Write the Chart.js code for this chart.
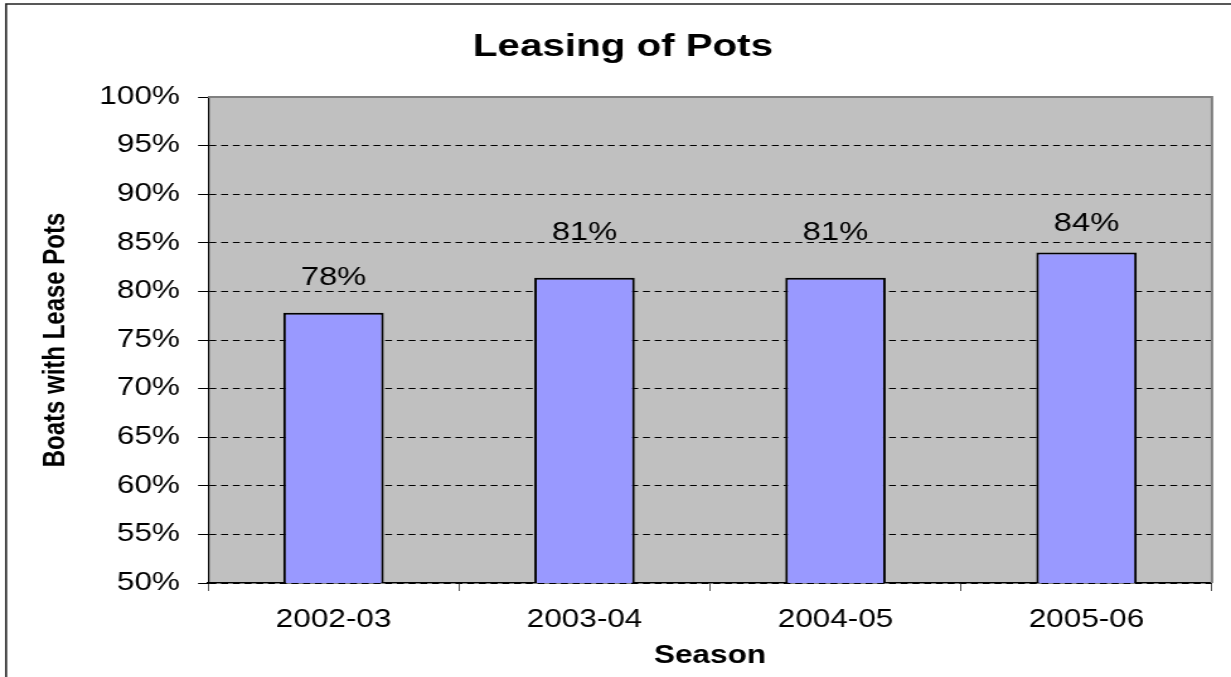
<!DOCTYPE html>
<html>
<head>
<meta charset="utf-8">
<title>Leasing of Pots</title>
<script src="https://cdn.jsdelivr.net/npm/chart.js@4/dist/chart.umd.min.js"></script>
<style>
  html, body { margin: 0; padding: 0; background: #fff; overflow: hidden; }
  /* drawn narrow and widened by css, like the old wide-stretched export */
  #potsChart { width: 1231px !important; height: 677px !important; display: block; }
</style>
</head>
<body>
<canvas id="potsChart" width="977" height="677"></canvas>
<script>
// Share of boats leasing pots, per season (%)
const seasons = ['2002-03', '2003-04', '2004-05', '2005-06'];
const leaseShare = [77.8, 81.4, 81.4, 84.0];
const yTicks = [50, 55, 60, 65, 70, 75, 80, 85, 90, 95, 100];

// how far each value label sits above its bar
const labelLift = [35, 45, 45, 29];

const FONT = '"Liberation Sans", Arial, sans-serif';
Chart.defaults.font.family = FONT;
Chart.defaults.color = '#000';

// grey plot background plus the frame lines
const plotFrame = {
    id: 'plotFrame',
    beforeDraw(chart) {
        const { ctx, chartArea: a } = chart;
        ctx.save();
        ctx.fillStyle = '#C0C0C0';
        ctx.fillRect(a.left, a.top, a.right - a.left, a.bottom - a.top);
        ctx.restore();
    },
    afterDraw(chart) {
        const { ctx, chartArea: a } = chart;
        ctx.save();
        ctx.strokeStyle = '#808080';
        ctx.lineWidth = 2;
        ctx.beginPath();
        ctx.moveTo(a.left, a.top);
        ctx.lineTo(a.right, a.top);
        ctx.lineTo(a.right, a.bottom);
        ctx.stroke();
        // outer border of the whole chart
        ctx.strokeStyle = '#222';
        ctx.lineWidth = 1.6;
        ctx.beginPath();
        ctx.moveTo(4.8, chart.height + 5);
        ctx.lineTo(4.8, 4);
        ctx.lineTo(chart.width + 5, 4);
        ctx.stroke();
        ctx.restore();
    }
};

// percent labels above the bars
const barLabels = {
    id: 'barLabels',
    afterDatasetsDraw(chart) {
        const ctx = chart.ctx;
        const meta = chart.getDatasetMeta(0);
        ctx.save();
        ctx.font = '26px ' + FONT;
        ctx.fillStyle = '#000';
        ctx.textAlign = 'center';
        ctx.textBaseline = 'middle';
        meta.data.forEach((bar, i) => {
            ctx.fillText(Math.round(leaseShare[i]) + '%', bar.x, bar.y - labelLift[i]);
        });
        ctx.restore();
    }
};

const potsChart = new Chart(document.getElementById('potsChart'), {
    type: 'bar',
    data: {
        labels: seasons,
        datasets: [{
            label: 'Boats with Lease Pots',
            data: leaseShare,
            backgroundColor: '#9999FF',
            borderColor: '#000',
            borderWidth: 2,
            borderSkipped: false,
            barPercentage: 0.4,
            categoryPercentage: 1.0
        }]
    },
    options: {
        responsive: false,
        animation: false,
        devicePixelRatio: 1,
        layout: {
            padding: { left: 27, right: 15.1, top: 0, bottom: 0 }
        },
        scales: {
            y: {
                min: 50,
                max: 100,
                afterBuildTicks: scale => {
                    scale.ticks = yTicks.map(v => ({ value: v }));
                },
                afterFit: scale => { scale.width = 138.1; },
                ticks: {
                    font: { size: 25 },
                    padding: 14.4,
                    callback: v => v + '%'
                },
                grid: {
                    color: ctx => (ctx.tick && ctx.tick.value === 100) ? 'rgba(0,0,0,0)' : '#000',
                    lineWidth: 1,
                    tickBorderDash: [],
                    tickColor: '#000',
                    tickLength: 7.9
                },
                border: { color: '#000', width: 1.2, dash: [5.5, 3.8] },
                title: {
                    display: true,
                    text: 'Boats with Lease Pots',
                    font: { size: 24, weight: 'bold' },
                    padding: { top: 3.4, bottom: 0 }
                }
            },
            x: {
                afterFit: scale => { scale.height = 94; },
                ticks: {
                    font: { size: 25 },
                    padding: 13.8,
                    maxRotation: 0
                },
                grid: {
                    drawOnChartArea: false,
                    tickColor: '#555',
                    tickLength: 8
                },
                border: { color: '#000', width: 1.5 },
                title: {
                    display: true,
                    text: 'Season',
                    font: { size: 25, weight: 'bold' },
                    padding: { top: 0, bottom: 6 }
                }
            }
        },
        plugins: {
            legend: { display: false },
            tooltip: { enabled: false },
            title: {
                display: true,
                text: 'Leasing of Pots',
                font: { size: 32, weight: 'bold' },
                padding: { top: 27.6, bottom: 31 }
            }
        }
    },
    plugins: [plotFrame, barLabels]
});
</script>
</body>
</html>
